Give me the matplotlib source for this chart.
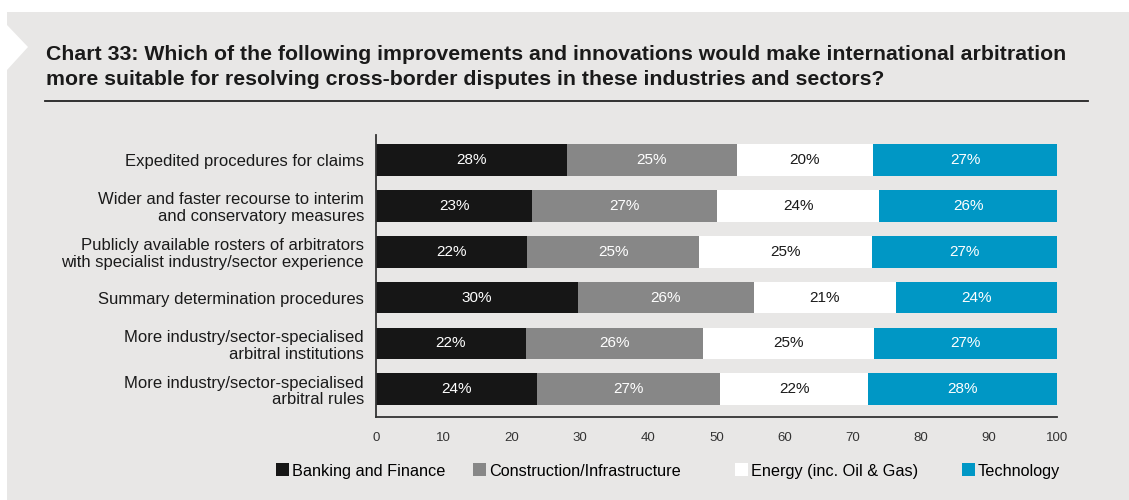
import matplotlib
matplotlib.use("Agg")
import matplotlib.pyplot as plt
from matplotlib.patches import Rectangle, Polygon, Patch
from matplotlib import font_manager
import numpy as np

categories = [
    "Expedited procedures for claims",
    "Wider and faster recourse to interim\nand conservatory measures",
    "Publicly available rosters of arbitrators\nwith specialist industry/sector experience",
    "Summary determination procedures",
    "More industry/sector-specialised\narbitral institutions",
    "More industry/sector-specialised\narbitral rules",
]
series_names = ["Banking and Finance", "Construction/Infrastructure",
                "Energy (inc. Oil & Gas)", "Technology"]
banking = [28.1, 23.0, 22.2, 29.7, 22.1, 23.7]
construction = [24.9, 27.1, 25.3, 25.8, 26.0, 26.8]
energy = [20.0, 23.8, 25.3, 20.8, 25.0, 21.8]
technology = [27.0, 26.1, 27.2, 23.7, 26.9, 27.7]
xtick_values = list(range(0, 101, 10))
title = ("Chart 33: Which of the following improvements and innovations would make international arbitration\n"
         "more suitable for resolving cross-border disputes in these industries and sectors?")

colors = ["#161616", "#878787", "#ffffff", "#0097c5"]
text_colors = ["white", "white", "#1a1a1a", "white"]
bg = "#e8e7e6"

available = {f.name for f in font_manager.fontManager.ttflist}
main_font = "Liberation Sans" if "Liberation Sans" in available else "DejaVu Sans"
plt.rcParams["font.family"] = [main_font, "DejaVu Sans"]

W, H = 1129, 500
fig = plt.figure(figsize=(W / 100, H / 100), dpi=100, facecolor="white")

# background panel and folded-corner notch
fig.patches.append(Rectangle((7 / W, 0), 1 - 7 / W, 1 - 12 / H, transform=fig.transFigure,
                             facecolor=bg, edgecolor="none", zorder=-10))
fig.patches.append(Polygon([(7 / W, 1 - 25 / H), (28 / W, 1 - 47 / H), (7 / W, 1 - 70 / H)],
                           closed=True, transform=fig.transFigure,
                           facecolor="white", edgecolor="none", zorder=-9))

# title and rule
fig.text(46 / W, 1 - 45 / H, title, fontsize=15.3, fontweight="bold", color="#1a1a1a",
         ha="left", va="top", linespacing=1.38)
fig.add_artist(plt.Line2D([45 / W, 1088 / W], [1 - 101 / H, 1 - 101 / H],
                          transform=fig.transFigure, color="#222222", linewidth=1.3))

ax = fig.add_axes([375.7 / W, 83 / H, (1057 - 375.7) / W, (417 - 135) / H])
ax.set_facecolor("none")

data = [banking, construction, energy, technology]
y = np.arange(len(categories))
left = np.zeros(len(categories))
for vals, c, tc, name in zip(data, colors, text_colors, series_names):
    vals = np.array(vals)
    ax.barh(y, vals, left=left, height=0.69, color=c, edgecolor="none", label=name)
    for yi, l, v in zip(y, left, vals):
        ax.text(l + v / 2, yi, f"{v:.0f}%", ha="center", va="center",
                color=tc, fontsize=11)
    left = left + vals

ax.set_xlim(0, 100)
ax.set_ylim(len(categories) - 1 + 0.61, -0.55)
ax.set_yticks(y)
ax.set_yticklabels(categories, fontsize=12, color="#1a1a1a", linespacing=1.15)
ax.set_xticks(xtick_values)
ax.set_xticklabels([str(v) for v in xtick_values], fontsize=9.5, color="#333333")
ax.tick_params(axis="y", length=0, pad=8.5)
ax.tick_params(axis="x", which="major", length=0, pad=11)
ax.set_xticks([20, 40, 60, 80, 100], minor=True)
ax.tick_params(axis="x", which="minor", direction="in", length=5, width=1.2, color="#333333")

for s in ["top", "right"]:
    ax.spines[s].set_visible(False)
for s in ["left", "bottom"]:
    ax.spines[s].set_color("#333333")
    ax.spines[s].set_linewidth(1.3)

legend_x = [276, 473, 735, 962]
for name, c, lx in zip(series_names, colors, legend_x):
    leg = fig.legend([Patch(facecolor=c, edgecolor="none")], [name], loc="center left",
                     bbox_to_anchor=(lx / W, 1 - 471 / H), frameon=False,
                     borderaxespad=0, borderpad=0,
                     handlelength=0.78, handleheight=0.85, handletextpad=0.2,
                     prop={"size": 11.7})

fig.savefig("out.png", dpi=100, facecolor=fig.get_facecolor())
